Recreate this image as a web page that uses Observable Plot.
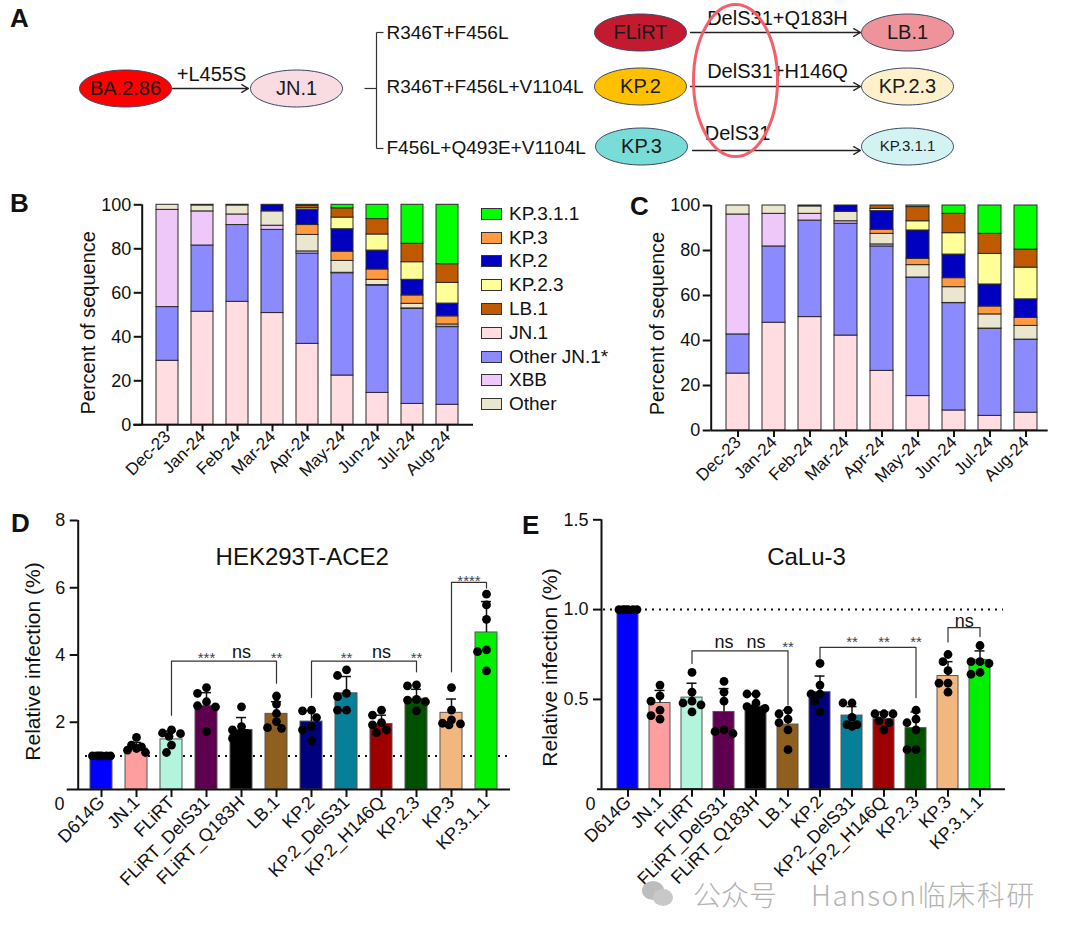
<!DOCTYPE html>
<html><head><meta charset="utf-8">
<script src="https://cdn.jsdelivr.net/npm/d3@7"></script>
<script src="https://cdn.jsdelivr.net/npm/@observablehq/plot@0.6"></script>
<style>
body{margin:0;background:#fff;}
#root{position:relative;width:1080px;height:938px;overflow:hidden;background:#fff;font-family:'Liberation Sans',Arial,sans-serif;color:#111;}
.plab{position:absolute;font-weight:bold;font-size:26px;line-height:26px;}
.leg{position:absolute;left:481px;top:202px;}
.leg .row{display:flex;align-items:center;height:23.8px;font-size:19px;}
.leg .sw{width:19px;height:10px;border:1px solid #333;margin-right:7px;}
.wm{position:absolute;left:642px;top:874px;display:flex;align-items:center;color:#b3b3b3;font-family:'Noto Sans CJK SC','Noto Sans',sans-serif;font-size:28px;font-weight:300;white-space:nowrap;}
</style></head>
<body><div id="root"></div>
<script>
const FONT = "'Liberation Sans', Arial, sans-serif";

// ---------------- Panel A (lineage diagram) ----------------
const aNodeNames = ["BA.2.86","JN.1","FLiRT","KP.2","KP.3","LB.1","KP.2.3","KP.3.1.1"];
const aNodeX = [125, 296, 640, 640, 641, 907, 907, 907];
const aNodeY = [88, 88, 32, 86, 146, 32, 86, 146];
const aNodeFill = ["#ff0000","#f9dce2","#c41a30","#ffc000","#7adcd6","#ef939b","#fdf0cb","#d3f3f3"];
const aNodeTextSize = [20,20,20,20,20,20,20,15];
const aMutLabels = ["R346T+F456L","R346T+F456L+V1104L","F456L+Q493E+V1104L"];
const aMutY = [32, 86, 147];
const aArrowX1 = [172, 690, 690, 692];
const aArrowX2 = [248, 860, 860, 860];
const aArrowY = [88, 32, 86, 150];
const aArrowLabel = ["+L455S","DelS31+Q183H","DelS31+H146Q","DelS31"];
const aArrowLabelX = [211, 777, 777, 737];
const aArrowLabelY = [74, 18, 71, 133];
const aBracket = [[376,32,376,148],[376,32,383,32],[376,148,383,148],[364,88,376,88]];
const aRing = {x: 735, y: 80, rx: 42, ry: 76};

// ---------------- Panels B & C (stacked shares) ----------------
const months = ["Dec-23","Jan-24","Feb-24","Mar-24","Apr-24","May-24","Jun-24","Jul-24","Aug-24"];
const stackOrder = ["JN.1","Other JN.1*","XBB","Other","KP.3","KP.2","KP.2.3","LB.1","KP.3.1.1"];
const stackColors = ["#ffdde1","#8b8bff","#eec8f9","#ebe7cf","#ff9a40","#0000c0","#ffff99","#c05a00","#00ff00"];
const legendOrder = ["KP.3.1.1","KP.3","KP.2","KP.2.3","LB.1","JN.1","Other JN.1*","XBB","Other"];
// rows follow stackOrder, columns follow months
const sharesB = [
  [29.1, 51.4, 55.9, 50.8, 36.8, 22.4, 14.5, 9.5, 9.1],
  [24.4, 30.1, 34.9, 37.8, 41.0, 46.5, 48.8, 43.2, 35.3],
  [44.2, 15.5, 4.8, 1.9, 1.0, 0.2, 0.2, 0.2, 0.2],
  [2.3, 2.7, 4.1, 6.5, 7.5, 5.4, 2.4, 2.1, 1.0],
  [0, 0, 0, 0, 4.5, 4.2, 4.7, 3.8, 3.7],
  [0, 0.3, 0.3, 3.0, 7.0, 10.2, 8.6, 7.1, 5.8],
  [0, 0, 0, 0, 0.7, 5.3, 7.3, 8.0, 9.4],
  [0, 0, 0, 0, 1.0, 4.2, 7.0, 8.4, 8.5],
  [0, 0, 0, 0, 0.5, 1.6, 6.5, 17.7, 27.0]
];
const sharesC = [
  [25.3, 47.9, 50.4, 42.2, 26.5, 15.3, 8.9, 6.5, 7.9],
  [17.4, 33.9, 42.9, 49.7, 55.3, 52.6, 47.7, 38.7, 32.4],
  [53.3, 14.5, 3.0, 1.1, 0.9, 0.1, 0.1, 0.1, 0.1],
  [4.0, 3.7, 3.3, 4.2, 4.7, 5.5, 7.0, 6.3, 6.1],
  [0, 0, 0, 0, 1.8, 2.8, 4.0, 3.5, 3.5],
  [0, 0, 0.4, 2.8, 8.3, 12.6, 10.5, 9.8, 8.3],
  [0, 0, 0, 0, 1.0, 4.1, 9.5, 13.6, 14.1],
  [0, 0, 0, 0, 1.5, 6.3, 8.6, 8.9, 8.0],
  [0, 0, 0, 0, 0, 0.7, 3.7, 12.6, 19.6]
];

// ---------------- Panels D & E (relative infection) ----------------
const variants = ["D614G","JN.1","FLiRT","FLiRT_DelS31","FLiRT_Q183H","LB.1","KP.2","KP.2_DelS31","KP.2_H146Q","KP.2.3","KP.3","KP.3.1.1"];
const variantColors = ["#0000ff","#ff9e9e","#b3f5dc","#5e004f","#000000","#8f5f1f","#00007f","#077f98","#9e0000","#005200","#f2b77f","#00f000"];
const hekMean = [1.0, 1.22, 1.49, 2.49, 1.77, 2.25, 2.02, 2.86, 1.95, 2.70, 2.28, 4.67];
const hekUpper = [1.0, 1.40, 1.74, 2.88, 2.14, 2.61, 2.34, 3.36, 2.21, 2.98, 2.69, 5.59];
const hekReps = [
  [1,1,1,1,1,1],
  [1.55,1.32,1.27,1.22,1.17,1.10],
  [1.77,1.68,1.66,1.58,1.32,1.10],
  [3.03,2.86,2.61,2.49,2.46,1.72],
  [2.46,1.87,1.77,1.67,1.57,1.52],
  [2.78,2.54,2.26,2.02,1.84,1.82],
  [2.36,2.34,2.14,1.87,1.77,1.45],
  [3.56,3.39,2.86,2.76,2.36,2.36],
  [2.36,2.21,1.99,1.92,1.77,1.69],
  [3.11,3.08,2.68,2.66,2.61,2.34],
  [3.03,2.36,2.07,1.97,1.95,1.92],
  [5.81,5.49,5.06,4.15,4.10,3.53]
];
const caluMean = [1.0, 0.48, 0.51, 0.43, 0.46, 0.36, 0.54, 0.41, 0.39, 0.34, 0.63, 0.72];
const caluUpper = [1.0, 0.55, 0.59, 0.56, 0.53, 0.44, 0.63, 0.46, 0.43, 0.43, 0.71, 0.77];
const caluReps = [
  [1,1,1,1,1,1],
  [0.58,0.52,0.49,0.44,0.41,0.39],
  [0.65,0.54,0.49,0.48,0.47,0.43],
  [0.60,0.54,0.49,0.33,0.32,0.31],
  [0.53,0.53,0.48,0.46,0.45,0.45],
  [0.44,0.42,0.39,0.37,0.33,0.22],
  [0.70,0.58,0.53,0.53,0.49,0.43],
  [0.48,0.48,0.40,0.36,0.36,0.35],
  [0.42,0.42,0.42,0.38,0.37,0.33],
  [0.44,0.39,0.37,0.33,0.22,0.22],
  [0.75,0.71,0.66,0.59,0.59,0.54],
  [0.80,0.71,0.71,0.70,0.65,0.64]
];
// brackets: [from, to, top, fromEnd, toEnd]
const hekBrackets = [["FLiRT","LB.1",3.82,2.21,3.16],["KP.2","KP.2.3",3.82,2.74,3.5],["KP.3","KP.3.1.1",6.16,3.5,5.99]];
const hekSigVariant = ["FLiRT_DelS31","FLiRT_Q183H","LB.1","KP.2_DelS31","KP.2_H146Q","KP.2.3"];
const hekSigLabel = ["***","ns","**","**","ns","**"];
const hekSigY = [4.02, 4.07, 4.02, 4.02, 4.07, 4.02];
const hekPairSig = {after: "KP.3", label: "****", y: 6.32};
const caluBrackets = [["FLiRT","LB.1",0.77,0.70,0.47],["KP.2","KP.2.3",0.79,0.72,0.51],["KP.3","KP.3.1.1",0.90,0.82,0.85]];
const caluSigVariant = ["FLiRT_DelS31","FLiRT_Q183H","LB.1","KP.2_DelS31","KP.2_H146Q","KP.2.3"];
const caluSigLabel = ["ns","ns","**","**","**","**"];
const caluSigY = [0.82, 0.82, 0.815, 0.84, 0.84, 0.84];
const caluPairSig = {after: "KP.3", label: "ns", y: 0.937};

// ================= helpers =================
const root = document.getElementById("root");
function place(el, left, top) {
  el.style.position = "absolute"; el.style.left = left + "px"; el.style.top = top + "px";
  root.appendChild(el);
}
const baseStyle = {fontFamily: FONT, background: "none", overflow: "visible", color: "#111"};

function ellipseSymbol(rx, ry) {
  return {draw(ctx) {
    const k = 0.5522847498;
    ctx.moveTo(rx, 0);
    ctx.bezierCurveTo(rx, k * ry, k * rx, ry, 0, ry);
    ctx.bezierCurveTo(-k * rx, ry, -rx, k * ry, -rx, 0);
    ctx.bezierCurveTo(-rx, -k * ry, -k * rx, -ry, 0, -ry);
    ctx.bezierCurveTo(k * rx, -ry, rx, -k * ry, rx, 0);
    ctx.closePath();
  }};
}

// ================= Panel A =================
{
  const nodes = aNodeNames.map((n, i) => ({name: n, x: aNodeX[i], y: aNodeY[i], fill: aNodeFill[i], fs: aNodeTextSize[i]}));
  const arrows = aArrowLabel.map((l, i) => ({x1: aArrowX1[i], x2: aArrowX2[i], y: aArrowY[i], label: l, lx: aArrowLabelX[i], ly: aArrowLabelY[i]}));
  const muts = aMutLabels.map((l, i) => ({label: l, y: aMutY[i]}));
  const segs = aBracket.map(([x1, y1, x2, y2]) => ({x1, y1, x2, y2}));
  const svg = Plot.plot({
    width: 1080, height: 178, margin: 0,
    x: {domain: [0, 1080], range: [0, 1080], axis: null},
    y: {domain: [0, 178], range: [0, 178], axis: null},
    color: {type: "identity"},
    style: baseStyle,
    marks: [
      Plot.link(segs, {x1: "x1", y1: "y1", x2: "x2", y2: "y2", stroke: "#333", strokeWidth: 1.2}),
      Plot.arrow(arrows, {x1: "x1", y1: "y", x2: "x2", y2: "y", headLength: 9, stroke: "#222", strokeWidth: 1.3}),
      Plot.text(arrows, {x: "lx", y: "ly", text: "label", fontSize: 20, fill: "#111"}),
      Plot.text(muts, {x: 386, y: "y", text: "label", textAnchor: "start", fontSize: 19, fill: "#111"}),
      Plot.dot(nodes, {x: "x", y: "y", symbol: ellipseSymbol(46, 18.5), fill: "fill", stroke: "#3b4766", strokeWidth: 1}),
      Plot.text(nodes, {x: "x", y: "y", text: "name", fontSize: "fs", fill: "#1a1a1a"}),
      Plot.dot([aRing], {x: "x", y: "y", symbol: ellipseSymbol(aRing.rx, aRing.ry), fill: "none", stroke: "#f3606b", strokeWidth: 3})
    ]
  });
  place(svg, 0, 0);
}

// ================= Panels B & C =================
function stackPlot(shares, L) {
  const rows = [];
  stackOrder.forEach((lin, i) => months.forEach((m, j) => {
    if (shares[i][j] > 0) rows.push({month: m, lineage: lin, value: shares[i][j]});
  }));
  const fw = L.width - L.ml - L.mr;
  return Plot.plot({
    width: L.width, height: L.height,
    marginLeft: L.ml, marginRight: L.mr, marginTop: L.mt, marginBottom: L.mb,
    style: baseStyle,
    x: {domain: months, range: L.xr, paddingInner: 0.36, paddingOuter: 0, align: 0.5},
    y: {domain: [0, 100]},
    color: {domain: stackOrder, range: stackColors},
    marks: [
      Plot.barY(rows, {x: "month", y: "value", fill: "lineage", order: stackOrder, stroke: "#2a2a2a", strokeWidth: 1}),
      Plot.ruleY([0], {strokeWidth: 2, insetLeft: -L.baseExt}),
      Plot.ruleX([0], {x: null, y1: 0, y2: 100, dx: -fw / 2, strokeWidth: 2}),
      Plot.axisY({ticks: [0, 20, 40, 60, 80, 100], tickSize: 8, tickPadding: 3, fontSize: 18, strokeWidth: 2, label: null}),
      Plot.axisX({tickSize: 7, tickPadding: 2, tickRotate: -45, fontSize: 17, strokeWidth: 2, label: null}),
      Plot.text(["Percent of sequence"], {frameAnchor: "left", textAnchor: "middle", lineAnchor: "middle", rotate: -90, dx: L.labelDx, dy: L.labelDy, fontSize: 20})
    ]
  });
}
place(stackPlot(sharesB, {width: 480, height: 310, ml: 141.7, mr: 7, mt: 14.3, mb: 75.7, xr: [153, 461.5], baseExt: 8.5, labelDx: -53.7, labelDy: 8}), 0, 190);
place(stackPlot(sharesC, {width: 460, height: 320, ml: 110.7, mr: 12.3, mt: 15, mb: 80, xr: [124, 438.5], baseExt: 0, labelDx: -53.7, labelDy: 5.5}), 600, 190);

// legend for B
{
  const leg = document.createElement("div");
  leg.className = "leg";
  legendOrder.forEach(name => {
    const row = document.createElement("div"); row.className = "row";
    const sw = document.createElement("span"); sw.className = "sw";
    sw.style.background = stackColors[stackOrder.indexOf(name)];
    const tx = document.createElement("span"); tx.textContent = name;
    row.appendChild(sw); row.appendChild(tx); leg.appendChild(row);
  });
  root.appendChild(leg);
}

// ================= Panels D & E =================
function infectionPlot(means, uppers, reps, brackets, sigV, sigL, sigY, pair, C) {
  const n = variants.length;
  const bars = variants.map((v, i) => ({variant: v, mean: means[i], top: uppers[i]}));
  const step = (C.xr[1] - C.xr[0]) / (n - C.pad);
  const bw = step * (1 - C.pad);
  const pxPerUnit = (C.height - C.mt - C.mb) / C.ymax;
  const R = 4.4;
  const cand = [0, -5, 5, -9, 9, -2.5, 2.5];
  const dots = [];
  variants.forEach((v, i) => {
    const placed = [];
    reps[i].slice().sort((a, b) => b - a).forEach(val => {
      const py = val * pxPerUnit;
      let best = 0, bestD = -1;
      for (const c of cand) {
        const d = placed.length ? Math.min(...placed.map(p => Math.hypot(p.dx - c, p.py - py))) : Infinity;
        if (d >= 2 * R - 0.8) { best = c; bestD = d; break; }
        if (d > bestD) { bestD = d; best = c; }
      }
      placed.push({dx: best, py});
      dots.push({variant: v, value: val, dx: best});
    });
  });
  const dotMarks = Array.from(d3.group(dots, d => d.dx), ([dx, arr]) =>
    Plot.dot(arr, {x: "variant", y: "value", dx, r: R, fill: "#000", stroke: "none"}));
  const bpts = [];
  brackets.forEach(([a, b, top, ya, yb], k) => {
    bpts.push({id: k, x: a, y: ya}, {id: k, x: a, y: top}, {id: k, x: b, y: top}, {id: k, x: b, y: yb});
  });
  const sig = sigV.map((v, i) => ({variant: v, label: sigL[i], y: sigY[i]}));
  const fw = C.width - C.ml - C.mr;
  return Plot.plot({
    width: C.width, height: C.height,
    marginLeft: C.ml, marginRight: C.mr, marginTop: C.mt, marginBottom: C.mb,
    style: baseStyle,
    x: {domain: variants, range: C.xr, paddingInner: C.pad, paddingOuter: 0, align: 0.5},
    y: {domain: [0, C.ymax]},
    color: {domain: variants, range: variantColors},
    marks: [
      Plot.ruleY([1], {stroke: "#111", strokeWidth: 2, strokeDasharray: "2,5", insetLeft: C.dotInsetL, insetRight: C.dotInsetR}),
      Plot.barY(bars, {x: "variant", y: "mean", fill: "variant", stroke: "#555", strokeWidth: 1}),
      Plot.ruleX(bars.filter(d => d.top > d.mean), {x: "variant", y1: "mean", y2: "top", strokeWidth: 1.5, stroke: "#111"}),
      Plot.tickY(bars.filter(d => d.top > d.mean), {x: "variant", y: "top", strokeWidth: 1.5, stroke: "#111", inset: (bw - 10) / 2}),
      ...dotMarks,
      Plot.line(bpts, {x: "x", y: "y", z: "id", stroke: "#333", strokeWidth: 1.2}),
      Plot.text(sig.filter(d => d.label !== "ns"), {x: "variant", y: "y", text: "label", fontSize: 15, fill: "#3a3f52", dy: 4}),
      Plot.text(sig.filter(d => d.label === "ns"), {x: "variant", y: "y", text: "label", fontSize: 18, fill: "#111"}),
      Plot.text([pair], {x: "after", y: "y", text: "label", dx: step / 2, dy: pair.label === "ns" ? 0 : 4,
        fontSize: pair.label === "ns" ? 18 : 15, fill: pair.label === "ns" ? "#111" : "#3a3f52"}),
      Plot.ruleY([0], {strokeWidth: 2, insetLeft: -C.baseExt}),
      Plot.ruleX([0], {x: null, y1: 0, y2: C.ymax, dx: -fw / 2, strokeWidth: 2}),
      Plot.axisY({ticks: C.ticks, tickFormat: C.fmt, tickSize: 8, tickPadding: 5, fontSize: 18, strokeWidth: 2, label: null}),
      Plot.text(["0"], {frameAnchor: "bottom-left", textAnchor: "end", lineAnchor: "middle", dx: C.zeroDx, dy: 15, fontSize: 18}),
      Plot.axisX({tickSize: 8, tickPadding: 2, tickRotate: -45, fontSize: 18, strokeWidth: 2, label: null}),
      Plot.text([C.title], {frameAnchor: "top", textAnchor: "middle", lineAnchor: "middle", dx: C.titleDx, dy: C.titleDy, fontSize: 24}),
      Plot.text(["Relative infection (%)"], {frameAnchor: "left", textAnchor: "middle", lineAnchor: "middle", rotate: -90, dx: C.labelDx, dy: C.labelDy, fontSize: 21})
    ]
  });
}
place(infectionPlot(hekMean, hekUpper, hekReps, hekBrackets, hekSigVariant, hekSigLabel, hekSigY, hekPairSig, {
  width: 520, height: 433, ml: 77.7, mr: 10, mt: 15, mb: 149, ymax: 8, xr: [89.5, 497], pad: 0.37,
  baseExt: 11, ticks: [2, 4, 6, 8], fmt: d => String(d), zeroDx: -13.7,
  dotInsetL: 7.3, dotInsetR: 3, title: "HEK293T-ACE2", titleDx: 7.9, titleDy: 36.7, labelDx: -44.7, labelDy: 6.5
}), 0, 505);
place(infectionPlot(caluMean, caluUpper, caluReps, caluBrackets, caluSigVariant, caluSigLabel, caluSigY, caluPairSig, {
  width: 560, height: 433, ml: 81, mr: 75, mt: 14.3, mb: 149.3, ymax: 1.5, xr: [93, 473], pad: 0.357,
  baseExt: 4, ticks: [0.5, 1, 1.5], fmt: d3.format(".1f"), zeroDx: -6,
  dotInsetL: 2, dotInsetR: 2, title: "CaLu-3", titleDx: 3, titleDy: 37.7, labelDx: -51, labelDy: 13
}), 520, 505);

// ================= panel letters =================
[["A", 10, 4.6], ["B", 10, 189.5], ["C", 630, 192.5], ["D", 11, 510], ["E", 522, 511.5]].forEach(([t, x, y]) => {
  const d = document.createElement("div"); d.className = "plab"; d.textContent = t; place(d, x, y);
});

// ================= watermark =================
{
  const wm = document.createElement("div"); wm.className = "wm";
  const icon = document.createElement("span");
  icon.style.cssText = "position:relative;display:inline-block;width:32px;height:26px;margin-right:19px;";
  icon.innerHTML = '<span style="position:absolute;left:0;top:0;width:22px;height:19px;border-radius:50%;background:#bdbdbd"></span>' +
    '<span style="position:absolute;left:11px;top:8px;width:20px;height:17px;border-radius:50%;background:#c8c8c8"></span>';
  const t1 = document.createElement("span"); t1.textContent = "公众号";
  const t2 = document.createElement("span"); t2.textContent = "Hanson临床科研";
  t2.style.marginLeft = "34px"; t2.style.letterSpacing = "1.5px";
  wm.appendChild(icon); wm.appendChild(t1); wm.appendChild(t2); root.appendChild(wm);
}
</script>
</body></html>
